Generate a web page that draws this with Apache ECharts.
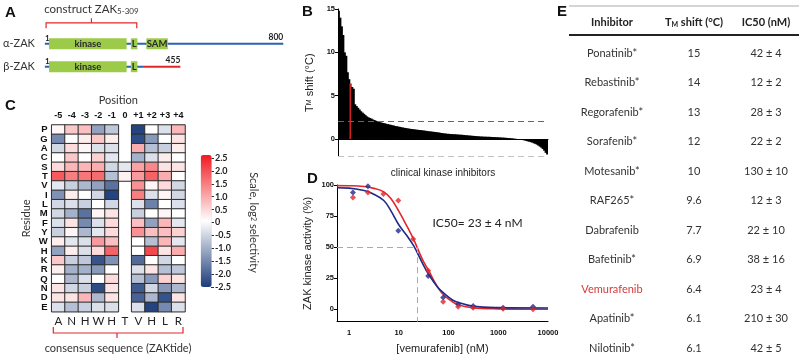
<!DOCTYPE html>
<html><head><meta charset="utf-8">
<script src="https://cdn.jsdelivr.net/npm/echarts@6/dist/echarts.min.js"></script>
<style>html,body{margin:0;padding:0;background:#fff}#c{width:800px;height:356px}</style>
</head><body><div id="c"></div>
<script>
// ---------- Panel A: protein schematic ----------
const proteinRows = ['α-ZAK', 'β-ZAK'];
const proteinLengths = [800, 455];
const lineSegments = [[0, 1, 800, 'blue'], [1, 1, 333, 'blue'], [1, 333, 455, 'red']];
const domains = [[0, 15, 275, 'kinase'], [0, 289, 311, 'L'], [0, 341, 413, 'SAM'],
                 [1, 15, 275, 'kinase'], [1, 289, 311, 'L']];
const construct = [5, 309];

// ---------- Panel B: thermal shift of clinical kinase inhibitors ----------
const tmShifts = [14.8,14.0,13.0,12.0,10.0,9.6,7.7,6.9,6.4,6.0,5.8,4.0,3.8,3.6,3.4,3.2,3.05,2.9,2.75,2.6,
  2.5,2.42,2.35,2.25,2.18,2.1,2.03,1.98,1.93,1.88,1.84,1.8,1.75,1.71,1.67,1.63,1.59,1.55,1.5,1.47,
  1.43,1.4,1.36,1.32,1.29,1.26,1.23,1.2,1.17,1.15,1.13,1.1,1.08,1.06,1.04,1.02,1.0,0.98,0.95,0.93,
  0.9,0.88,0.86,0.84,0.82,0.8,0.77,0.75,0.72,0.69,0.66,0.64,0.62,0.6,0.59,0.57,0.56,0.55,0.54,0.53,
  0.51,0.5,0.49,0.48,0.46,0.44,0.42,0.41,0.39,0.38,0.36,0.35,0.33,0.32,0.3,0.29,0.28,0.27,0.26,0.26,
  0.25,0.25,0.24,0.23,0.22,0.21,0.2,0.19,0.18,0.17,0.16,0.15,0.14,0.12,0.11,0.1,0.08,0.06,0.04,0.02,
  0.0,-0.03,-0.06,-0.1,-0.14,-0.18,-0.23,-0.28,-0.32,-0.37,-0.42,-0.5,-0.56,-0.65,-0.76,-0.88,-1.0,-1.15,-1.35,-1.6,-1.8];
const vemIndex = 8;
const shiftThresholds = [2, -2];
const bTicks = [0, 5, 10, 15];

// ---------- Panel C: substrate specificity heatmap ----------
const positions = ['-5','-4','-3','-2','-1','0','+1','+2','+3','+4'];
const residues = ['P','G','A','C','S','T','V','I','L','M','F','Y','W','H','K','R','Q','N','D','E'];
const consensus = ['A','N','H','W','H','T','V','H','L','R'];
const selectivity = [
  [0.1, 0.6, 0.7, -1.2, -0.7, null, -2.4, 0.0, -0.4, 0.8],
  [-1.5, 0.0, 0.2, 0.6, 0.2, null, -2.3, -1.3, 0.0, 0.3],
  [-0.5, 0.4, 0.1, -0.4, -0.4, null, 0.9, -0.8, -0.6, 0.2],
  [0.0, 0.6, 0.0, 0.5, -0.3, null, -1.0, -0.4, 0.2, 0.0],
  [0.4, 0.8, 0.8, 0.9, -0.5, -0.3, 1.0, 1.3, 0.3, 0.3],
  [1.8, 1.4, 1.5, 1.6, -0.8, 0.15, 1.1, 1.7, 0.9, 0.0],
  [-0.3, -0.6, -0.9, -1.2, -1.8, null, 1.2, 0.1, 0.4, -0.5],
  [-1.4, 0.2, 0.0, -0.5, -2.4, null, 1.4, -0.4, 0.1, -0.5],
  [-0.5, -0.4, -0.6, 0.0, -0.5, null, -0.4, -1.6, 0.0, -0.4],
  [-0.5, -1.0, -1.8, 0.1, 0.3, null, -0.6, 0.0, 0.1, 0.0],
  [-0.4, 0.3, -1.5, -0.4, 0.4, null, 0.7, -1.2, 0.8, -0.3],
  [-0.6, 0.1, -0.9, -0.3, 0.4, null, 1.2, 0.7, 0.7, 0.5],
  [0.2, -0.3, -0.4, 1.1, 0.7, null, 0.0, -0.8, 0.8, -0.3],
  [-1.2, 0.2, -0.4, 0.4, 1.7, null, 0.0, 2.0, 0.3, 0.9],
  [0.6, -0.6, -0.7, -2.2, -1.4, null, -1.9, 0.0, -0.5, 0.0],
  [0.2, -1.0, -1.0, -1.3, 0.0, null, -0.4, 0.3, -0.8, -0.7],
  [0.0, -0.9, -0.4, 0.0, 0.4, null, -0.8, -1.3, 0.5, 0.3],
  [0.3, -0.5, -0.6, -2.3, 0.3, null, -2.1, -0.5, -1.3, -0.9],
  [0.3, 0.3, 0.8, -0.9, 0.3, null, -2.0, -0.9, -2.2, 0.3],
  [-0.4, -0.8, -0.6, -0.4, -0.4, null, -0.4, -2.4, -1.5, -0.4]
];

// ---------- Panel D: dose response ----------
const redConc = [1.2, 2.4, 4.9, 9.8, 19.5, 39, 78, 156, 312, 1250, 5000];
const redActivity = [90.0, 94.0, 92.7, 87.6, 56.5, 30.9, 6.1, 2.1, 1.3, 0.5, 0.0];
const blueConc = [1.2, 2.4, 9.8, 39, 78, 156, 312, 1250, 5000];
const blueActivity = [94.0, 98.9, 63.1, 26.8, 9.4, 4.0, 2.7, 1.3, 2.1];
const curveConc = [0.573, 1, 2, 3, 5, 7, 10, 15, 20, 30, 40, 60, 80, 120, 160, 300, 1000, 10000];
const redFit = [99.5, 99.4, 98.8, 97.5, 94.5, 89, 79, 66, 56, 40, 31, 18, 11.5, 6, 3.5, 1.2, 0.3, 0];
const blueFit = [97.8, 97.5, 95.5, 93, 87.5, 79, 68, 58.5, 51, 37, 28, 18, 13, 7.5, 5.4, 2.5, 1.3, 1];
const vemIC50 = 23, vemIC50err = 4;
const dTicksY = [0, 25, 50, 75, 100];
const dTicksX = [1, 10, 100, 1000, 10000];

// ---------- Panel E: table ----------
const inhibitors = ['Ponatinib*','Rebastinib*','Regorafenib*','Sorafenib*','Motesanib*','RAF265*','Dabrafenib','Bafetinib*','Vemurafenib','Apatinib*','Nilotinib*'];
const tmShiftTable = ['15','14','13','12','10','9.6','7.7','6.9','6.4','6.1','6.1'];
const ic50Table = ['42 ± 4','12 ± 2','28 ± 3','22 ± 2','130 ± 10','12 ± 3','22 ± 10','38 ± 16','23 ± 4','210 ± 30','42 ± 5'];

const RED = '#e3262b', BLUE = '#2a62b5', GREEN = '#9ccb4a', NAVY = '#1e2a88';
const SANS = "'Liberation Sans', Arial, sans-serif";
const CAL = "Lato, 'Open Sans', sans-serif";

const heatData = [];
selectivity.forEach((row, yi) => row.forEach((v, xi) => { if (v !== null) heatData.push([xi, yi, v]); }));

const graphic = [];
[['A',5,13],['B',302,12],['C',5,106],['D',307,179],['E',557,12]].forEach(l => graphic.push(
  {type:'text', x:l[1], y:l[2], style:{text:l[0], font:'bold 15px ' + SANS, fill:'#111', verticalAlign:'middle'}}));
// C bracket & caption
graphic.push({type:'polyline', shape:{points:[[53.3,327],[53.3,333],[183,333],[183,327]]}, style:{stroke:RED, lineWidth:1.2, fill:null}});
graphic.push({type:'line', shape:{x1:117, y1:333, x2:117, y2:338}, style:{stroke:RED, lineWidth:1.2}});
graphic.push({type:'text', x:118, y:348, style:{text:'consensus sequence (ZAKtide)', font:'11px ' + CAL, fill:'#333', align:'center', verticalAlign:'middle'}});
// IC50 text
graphic.push({type:'text', x:477.5, y:223, style:{text:'IC50= ' + vemIC50 + ' ± ' + vemIC50err + ' nM', font:'12px ' + CAL, fill:'#222', align:'center', verticalAlign:'middle'}});
// Table
graphic.push({type:'line', shape:{x1:569, y1:6, x2:799, y2:6}, style:{stroke:'#aaa', lineWidth:1}});
graphic.push({type:'line', shape:{x1:569, y1:35, x2:799, y2:35}, style:{stroke:'#222', lineWidth:2}});
graphic.push({type:'text', x:612, y:22, style:{text:'Inhibitor', font:'bold 11px ' + CAL, fill:'#222', align:'center', verticalAlign:'middle'}});
graphic.push({type:'text', x:694, y:22, style:{text:'T{s|M} shift (°C)', font:'bold 11px ' + CAL, fill:'#222', align:'center', verticalAlign:'middle',
  rich:{s:{font:'bold 7px ' + CAL, fill:'#222', padding:[5,0,0,0]}}}});
graphic.push({type:'text', x:766, y:22, style:{text:'IC50 (nM)', font:'bold 11px ' + CAL, fill:'#222', align:'center', verticalAlign:'middle'}});
inhibitors.forEach((name, i) => {
  const y = 53 + i * 29.5;
  const col = name === 'Vemurafenib' ? '#d33a3a' : '#333';
  graphic.push({type:'text', x:612, y:y, style:{text:name, font:'11px ' + CAL, fill:col, align:'center', verticalAlign:'middle'}});
  graphic.push({type:'text', x:694, y:y, style:{text:tmShiftTable[i], font:'11px ' + CAL, fill:'#333', align:'center', verticalAlign:'middle'}});
  graphic.push({type:'text', x:766, y:y, style:{text:ic50Table[i], font:'11px ' + CAL, fill:'#333', align:'center', verticalAlign:'middle'}});
});

const option = {
  animation: false,
  backgroundColor: '#fff',
  graphic: graphic,
  grid: [
    {left:40.7, top:32.35, width:242.6, height:45.8},
    {left:338, top:9, width:210, height:147.3},
    {left:51.7, top:125, width:133.3, height:186.7},
    {left:211, top:158, width:1, height:129},
    {left:337, top:185, width:211, height:136.7}
  ],
  xAxis: [
    {gridIndex:0, type:'value', min:1, max:800, show:false},
    {gridIndex:1, type:'category', data:tmShifts.map((_, i) => i + 1), axisLine:{onZero:true, lineStyle:{color:'#000', width:1}},
      axisTick:{show:false}, axisLabel:{show:false}, name:'clinical kinase inhibitors', nameLocation:'middle', nameGap:11.5,
      nameTextStyle:{fontSize:10, fontFamily:SANS, color:'#222'}},
    {gridIndex:2, type:'category', data:positions, position:'top', axisLine:{show:false}, axisTick:{show:false},
      axisLabel:{interval:0, fontSize:9, fontWeight:'bold', color:'#111', fontFamily:SANS, margin:5},
      name:'Position', nameLocation:'middle', nameGap:19, nameTextStyle:{fontSize:11, color:'#333', fontFamily:CAL}},
    {gridIndex:2, type:'category', data:consensus, position:'bottom', axisLine:{show:false}, axisTick:{show:false},
      axisLabel:{interval:0, fontSize:11.5, color:'#222', fontFamily:CAL, margin:4}},
    {gridIndex:3, type:'value', show:false},
    {gridIndex:4, type:'log', logBase:10, min:0.573, max:10000, axisLine:{onZero:false, lineStyle:{color:'#000', width:1}},
      axisTick:{show:false}, splitLine:{show:false}, minorTick:{show:false},
      axisLabel:{customValues:dTicksX, formatter:v => String(Math.round(v)), fontSize:7.5, fontWeight:'bold', color:'#111', fontFamily:SANS, margin:7},
      name:'[vemurafenib] (nM)', nameLocation:'middle', nameGap:22, nameTextStyle:{fontSize:11, fontFamily:SANS, color:'#222'}}
  ],
  yAxis: [
    {gridIndex:0, type:'category', data:proteinRows, inverse:true, axisLine:{show:false}, axisTick:{show:false},
      axisLabel:{margin:10, fontSize:11, color:'#333', fontFamily:CAL}},
    {gridIndex:1, type:'value', min:-2, max:15, splitLine:{show:false}, axisLine:{show:true, lineStyle:{color:'#000', width:1}},
      axisTick:{show:true, length:3, customValues:bTicks, lineStyle:{color:'#000'}},
      axisLabel:{customValues:bTicks, fontSize:7.5, fontWeight:'bold', color:'#111', fontFamily:SANS, margin:3},
      name:'T{sub|M} shift (°C)', nameLocation:'middle', nameGap:23,
      nameTextStyle:{fontSize:11, color:'#222', fontFamily:SANS, rich:{sub:{fontSize:7, fontFamily:SANS, color:'#222'}}}},
    {gridIndex:2, type:'category', data:residues, inverse:true, axisLine:{show:false}, axisTick:{show:false},
      axisLabel:{interval:0, fontSize:9.5, fontWeight:'bold', color:'#111', fontFamily:SANS, margin:4},
      name:'Residue', nameLocation:'middle', nameGap:20, nameTextStyle:{fontSize:11, color:'#333', fontFamily:CAL}},
    {gridIndex:3, type:'value', position:'right', min:-2.5, max:2.5, interval:0.5, splitLine:{show:false}, axisLine:{show:false},
      axisTick:{show:true, length:3, lineStyle:{color:'#333'}},
      axisLabel:{fontSize:9, fontWeight:'bold', color:'#222', fontFamily:CAL, margin:3, formatter:v => v === 0 ? '0' : v.toFixed(1)},
      name:'Scale, log{sub|2} selectivity', nameLocation:'middle', nameRotate:-90, nameGap:36,
      nameTextStyle:{fontSize:11, color:'#333', fontFamily:CAL, rich:{sub:{fontSize:7, fontFamily:CAL, color:'#333'}}}},
    {gridIndex:4, type:'value', min:-10, max:100, splitLine:{show:false}, axisLine:{show:true, lineStyle:{color:'#000', width:1}},
      axisTick:{show:true, length:3, customValues:dTicksY, lineStyle:{color:'#000'}},
      axisLabel:{customValues:dTicksY, fontSize:7.5, fontWeight:'bold', color:'#111', fontFamily:SANS, margin:3},
      name:'ZAK kinase activity (%)', nameLocation:'middle', nameGap:24, nameTextStyle:{fontSize:11, color:'#222', fontFamily:SANS}}
  ],
  visualMap: {
    type:'continuous', min:-2.5, max:2.5, seriesIndex:5, orient:'vertical', left:200.7, top:155, itemWidth:11, itemHeight:132,
    calculable:false, padding:0, hoverLink:false,
    inRange:{color:['#1b3b7a', '#ffffff', '#f01a20']}
  },
  series: [
    // 0: protein lines
    {type:'custom', xAxisIndex:0, yAxisIndex:0, silent:true, z:2,
      data: lineSegments.map(s => [s[1], s[0], s[2]]), encode:{x:[0,2], y:1},
      renderItem:(params, api) => {
        const seg = lineSegments[params.dataIndex];
        const a = api.coord([seg[1], seg[0]]), b = api.coord([seg[2], seg[0]]);
        return {type:'line', shape:{x1:a[0], y1:a[1], x2:b[0], y2:b[1]}, style:{stroke: seg[3] === 'red' ? RED : BLUE, lineWidth:2}};
      }},
    // 1: domains
    {type:'custom', xAxisIndex:0, yAxisIndex:0, silent:true, z:3,
      data: domains.map(d => [d[1], d[0], d[2]]), encode:{x:[0,2], y:1},
      renderItem:(params, api) => {
        const d = domains[params.dataIndex];
        const a = api.coord([d[1], d[0]]), b = api.coord([d[2], d[0]]);
        const h = 11;
        return {type:'group', children:[
          {type:'rect', shape:{x:a[0], y:a[1] - h / 2, width:b[0] - a[0], height:h}, style:{fill:GREEN}},
          {type:'text', style:{text:d[3], x:(a[0] + b[0]) / 2, y:a[1] + 0.5, align:'center', verticalAlign:'middle', font:'bold 9.5px ' + CAL, fill:'#2a2a2a'}}
        ]};
      }},
    // 2: residue number labels
    {type:'custom', xAxisIndex:0, yAxisIndex:0, silent:true, z:4,
      data: proteinRows.map((r, i) => [1, i, proteinLengths[i]]), encode:{x:[0,2], y:1},
      renderItem:(params, api) => {
        const i = params.dataIndex;
        const a = api.coord([1, i]), b = api.coord([proteinLengths[i], i]);
        return {type:'group', children:[
          {type:'text', style:{text:'1', x:a[0] + 2.5, y:a[1] - 1, align:'center', verticalAlign:'bottom', font:'bold 8px ' + CAL, fill:'#222'}},
          {type:'text', style:{text:String(proteinLengths[i]), x:b[0], y:b[1] - 2, align:'right', verticalAlign:'bottom', font:'bold 8.5px ' + CAL, fill:'#222'}}
        ]};
      }},
    // 3: construct bracket
    {type:'custom', xAxisIndex:0, yAxisIndex:0, silent:true, z:4,
      data: [[construct[0], 0, construct[1]]], encode:{x:[0,2], y:1},
      renderItem:(params, api) => {
        const a = api.coord([construct[0], 0]), b = api.coord([construct[1], 0]);
        const cy = a[1], mid = (a[0] + b[0]) / 2;
        return {type:'group', children:[
          {type:'polyline', shape:{points:[[a[0], cy - 15.5], [a[0], cy - 21], [b[0], cy - 21], [b[0], cy - 15.5]]}, style:{stroke:RED, lineWidth:1.2, fill:null}},
          {type:'line', shape:{x1:mid, y1:cy - 21, x2:mid, y2:cy - 25.5}, style:{stroke:RED, lineWidth:1.2}},
          {type:'text', style:{text:'construct ZAK{s|' + construct[0] + '-' + construct[1] + '}', x:mid, y:cy - 35, align:'center', verticalAlign:'middle',
            font:'11.5px ' + CAL, fill:'#333', rich:{s:{font:'8px ' + CAL, fill:'#333', padding:[6,0,0,0]}}}}
        ]};
      }},
    // 4: TM shift bars
    {type:'bar', xAxisIndex:1, yAxisIndex:1, barWidth:2.3, silent:true,
      data: tmShifts.map((v, i) => ({value:v, itemStyle:{color: i === vemIndex ? '#d42222' : '#000'}})),
      markLine:{silent:true, symbol:'none', label:{show:false},
        data:[{yAxis:shiftThresholds[0], lineStyle:{color:'#666', type:[6,4], width:1}}, {yAxis:shiftThresholds[1], lineStyle:{color:'#c4c4c4', type:[6,4], width:1}}]}},
    // 5: heatmap
    {type:'heatmap', xAxisIndex:2, yAxisIndex:2, data:heatData, silent:true,
      itemStyle:{borderColor:'#2b2b2b', borderWidth:1}, emphasis:{disabled:true}},
    // 6: red fit
    {type:'line', xAxisIndex:5, yAxisIndex:4, data:curveConc.map((c, i) => [c, redFit[i]]), smooth:0.4, symbol:'none', silent:true,
      lineStyle:{color:RED, width:1.6}, z:3},
    // 7: blue fit
    {type:'line', xAxisIndex:5, yAxisIndex:4, data:curveConc.map((c, i) => [c, blueFit[i]]), smooth:0.4, symbol:'none', silent:true,
      lineStyle:{color:NAVY, width:1.6}, z:3,
      markLine:{silent:true, symbol:'none', label:{show:false}, lineStyle:{color:'#aaa', type:[6,4], width:1},
        data:[[{coord:[0.573, 50]}, {coord:[vemIC50, 50]}], [{coord:[vemIC50, 50]}, {coord:[vemIC50, -10]}]]}},
    // 8: blue points
    {type:'scatter', xAxisIndex:5, yAxisIndex:4, data:blueConc.map((c, i) => [c, blueActivity[i]]), symbol:'diamond', symbolSize:6,
      itemStyle:{color:NAVY}, silent:true, z:4},
    // 9: red points
    {type:'scatter', xAxisIndex:5, yAxisIndex:4, data:redConc.map((c, i) => [c, redActivity[i]]), symbol:'diamond', symbolSize:6,
      itemStyle:{color:RED}, silent:true, z:5}
  ]
};
const chart = echarts.init(document.getElementById('c'), null, {renderer:'canvas'});
chart.setOption(option);
</script>
</body></html>
